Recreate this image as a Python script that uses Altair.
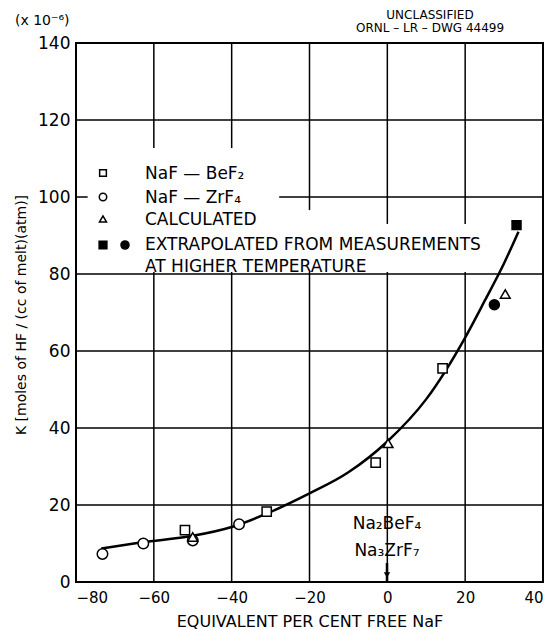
import altair as alt
import pandas as pd

# ---- data ----
naf_bef2_x = [-52, -31, -3, 14.2]
naf_bef2_y = [13.5, 18.3, 31.0, 55.5]

naf_zrf4_x = [-73.2, -62.7, -50, -38.1]
naf_zrf4_y = [7.3, 10.0, 10.8, 15.0]

calc_x = [-50, 0.2, 30.3]
calc_y = [11.7, 36.0, 74.8]

extrap_sq_x = [33.2]
extrap_sq_y = [92.7]
extrap_ci_x = [27.5]
extrap_ci_y = [72.0]

curve_x = [-73.5, -63, -50, -40, -30, -20, -10, 0, 10, 20, 25, 30, 33.7]
curve_y = [8.7, 10.3, 12.0, 14.3, 18.2, 23.0, 28.5, 36.5, 47.5, 63.5, 73.0, 82.8, 91.0]

x_ticks = [-80, -60, -40, -20, 0, 20, 40]
y_ticks = [0, 20, 40, 60, 80, 100, 120, 140]

legend_labels = [
    "NaF — BeF₂",
    "NaF — ZrF₄",
    "CALCULATED",
    "EXTRAPOLATED FROM MEASUREMENTS",
    "AT HIGHER TEMPERATURE",
]

# grid lines as drawn (interrupted behind the legend block)
vgrid_x  = [-60, -60, -40, -40, -20, -20, 0, 0, 20, 20]
vgrid_y1 = [0, 112.7, 0, 112.7, 0, 96.6, 0, 93.0, 0, 93.0]
vgrid_y2 = [80.5, 140, 80.5, 140, 80.5, 140, 80.5, 140, 80.5, 140]

hgrid_y  = [20, 40, 60, 80, 100, 100, 120]
hgrid_x1 = [-80, -80, -80, -80, -80, -27.8, -80]
hgrid_x2 = [40, 40, 40, 40, -77, 40, 40]

FONT = "DejaVu Sans"

xs = alt.Scale(domain=[-80, 40], nice=False, zero=False)
ys = alt.Scale(domain=[0, 140], nice=False, zero=False)

X_AX = alt.Axis(values=x_ticks, title="EQUIVALENT PER CENT FREE NaF",
                grid=False, domain=False, ticks=False,
                labelFontSize=15, labelPadding=8, titleFontSize=16,
                titlePadding=8, titleFontWeight="normal")
Y_AX = alt.Axis(values=y_ticks, title=None, grid=False, domain=False,
                ticks=False, labelFontSize=17, labelPadding=6)

one = pd.DataFrame({"d": [0]})

base = alt.Chart(one).mark_point(opacity=0).encode(
    x=alt.X("d:Q", scale=xs, axis=X_AX),
    y=alt.Y("d:Q", scale=ys, axis=Y_AX),
)

vgrid = alt.Chart(pd.DataFrame({"x": vgrid_x, "y1": vgrid_y1, "y2": vgrid_y2})
                  ).mark_rule(color="black", strokeWidth=1.5).encode(
    x=alt.X("x:Q", scale=xs, axis=X_AX),
    y=alt.Y("y1:Q", scale=ys, axis=Y_AX), y2="y2:Q")
hgrid = alt.Chart(pd.DataFrame({"y": hgrid_y, "x1": hgrid_x1, "x2": hgrid_x2})
                  ).mark_rule(color="black", strokeWidth=1.5).encode(
    y=alt.Y("y:Q", scale=ys, axis=Y_AX),
    x=alt.X("x1:Q", scale=xs, axis=X_AX), x2="x2:Q")

curve_df = pd.DataFrame({"x": curve_x, "y": curve_y})
curve = alt.Chart(curve_df).mark_line(
    color="black", strokeWidth=2.5, interpolate="monotone").encode(
    x=alt.X("x:Q", scale=xs, axis=X_AX), y=alt.Y("y:Q", scale=ys, axis=Y_AX))

def pts(xv, yv, shape, size, filled):
    df = pd.DataFrame({"x": xv, "y": yv})
    return alt.Chart(df).mark_point(
        shape=shape, size=size, filled=True,
        fill="black" if filled else "white",
        stroke="black", strokeWidth=1.5, opacity=1).encode(
        x=alt.X("x:Q", scale=xs, axis=X_AX), y=alt.Y("y:Q", scale=ys, axis=Y_AX))

points = (
    pts(naf_bef2_x, naf_bef2_y, "square", 85, False)
    + pts(naf_zrf4_x, naf_zrf4_y, "circle", 110, False)
    + pts(calc_x, calc_y, "triangle-up", 95, False)
    + pts(extrap_sq_x, extrap_sq_y, "square", 80, True)
    + pts(extrap_ci_x, extrap_ci_y, "circle", 100, True)
)

def sym(x, y, shape, size, filled):
    return alt.Chart(one).mark_point(
        shape=shape, size=size, filled=True,
        fill="black" if filled else "white",
        stroke="black", strokeWidth=1.5, opacity=1).encode(
        x=alt.value(x), y=alt.value(y))

def txt(text, x, y, size=17, align="left", angle=None):
    kw = dict(text=text, font=FONT, fontSize=size, align=align,
              baseline="middle", color="black")
    if angle is not None:
        kw["angle"] = angle
    return alt.Chart(one).mark_text(**kw).encode(x=alt.value(x), y=alt.value(y))

legend = (
    sym(27, 130, "square", 45, False)
    + sym(27, 154, "circle", 55, False)
    + sym(27, 176, "triangle-up", 50, False)
    + sym(27, 202, "square", 60, True)
    + sym(49, 202, "circle", 65, True)
    + txt(legend_labels[0], 69, 131)
    + txt(legend_labels[1], 69, 155)
    + txt(legend_labels[2], 69, 177)
    + txt(legend_labels[3], 69, 202)
    + txt(legend_labels[4], 69, 224)
)

annot = (
    txt("Na₂BeF₄", 311, 481, align="center")
    + txt("Na₃ZrF₇", 311, 508, align="center")
    + alt.Chart(one).mark_rule(color="black", strokeWidth=2.5).encode(
        x=alt.value(311), y=alt.value(520), y2=alt.value(538))
    + alt.Chart(one).mark_point(shape="triangle-down", size=40, filled=True,
                                color="black", opacity=1).encode(
        x=alt.value(311), y=alt.value(532))
)

outer = (
    txt("(x 10⁻⁶)", -61, -22, size=14)
    + txt("UNCLASSIFIED", 354, -28, size=12, align="center")
    + txt("ORNL – LR – DWG 44499", 354, -15, size=12, align="center")
    + txt("K [moles of HF / (cc of melt)(atm)]", -54, 272, size=14,
          align="center", angle=270)
)

chart = alt.layer(base, vgrid, hgrid, curve, points, legend, annot,
                  outer).properties(
    width=467, height=539,
    autosize=alt.AutoSizeParams(type="none"),
    padding={"left": 68, "top": 35, "right": 2, "bottom": 48},
).configure_view(
    stroke="black", strokeWidth=2
).configure_axis(
    domain=False, ticks=False, grid=False, labelColor="black",
    titleColor="black", labelFont=FONT, titleFont=FONT,
)

chart.save("out.html", embed_options={"renderer": "svg", "actions": False})
